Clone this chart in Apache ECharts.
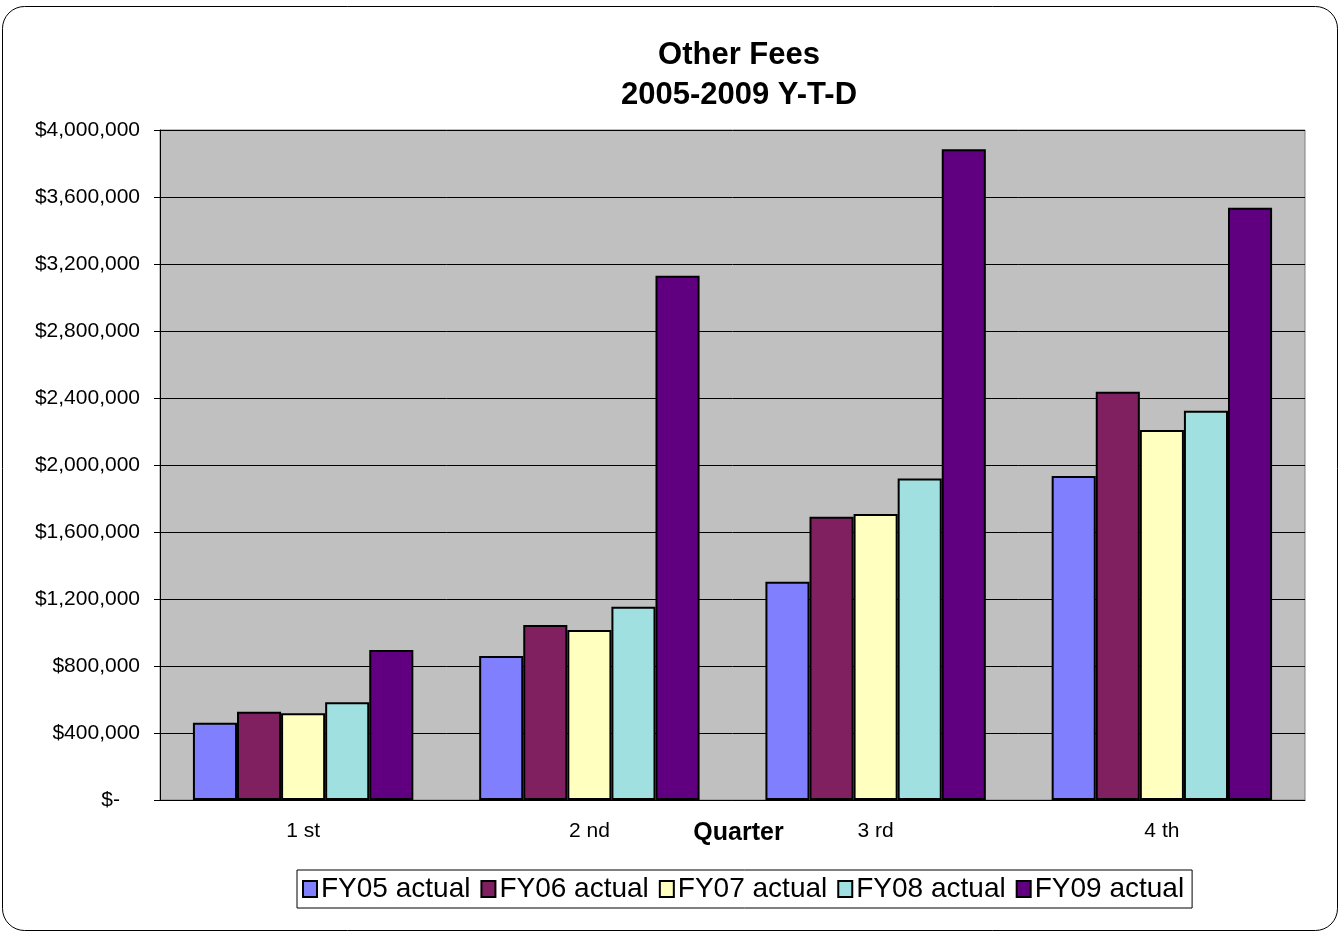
<!DOCTYPE html>
<html>
<head>
<meta charset="utf-8">
<script src="https://cdn.jsdelivr.net/npm/echarts@6/dist/echarts.min.js"></script>
<style>
  html, body { margin: 0; padding: 0; background: #fff; }
  #chart { width: 1340px; height: 933px; }
</style>
</head>
<body>
<div id="chart"></div>
<script>
// quarters along the x axis
const quarters = ["1 st", "2 nd", "3 rd", "4 th"]

// year-to-date fees per fiscal year
const fy05 = [461000, 860000, 1303000, 1934000]
const fy06 = [527000, 1045000, 1691000, 2438000]
const fy07 = [518000, 1015000, 1707000, 2209000]
const fy08 = [583000, 1154000, 1920000, 2324000]
const fy09 = [896000, 3130000, 3885000, 3536000]

const seriesNames = ["FY05 actual", "FY06 actual", "FY07 actual", "FY08 actual", "FY09 actual"]
const seriesColors = ["#8080FF", "#802060", "#FFFFC0", "#A0E0E0", "#600080"]
const seriesValues = [fy05, fy06, fy07, fy08, fy09]

const font = "Liberation Sans, Arial, sans-serif"

function money(value) {
    if (value === 0) {
        return "{z|$-}"
    }
    return "$" + value.toLocaleString("en-US")
}

const chart = echarts.init(document.getElementById("chart"))

chart.setOption({
    animation: false,
    backgroundColor: "#fff",
    textStyle: { fontFamily: font },
    title: {
        text: "Other Fees\n2005-2009 Y-T-D",
        left: 734,
        textAlign: "center",
        top: 30,
        textStyle: {
            fontFamily: font,
            fontSize: 31,
            fontWeight: "bold",
            color: "#000",
            lineHeight: 40,
        },
    },
    graphic: [
        {
            type: "rect",
            shape: { x: 2.5, y: 6.5, width: 1335, height: 924, r: 22 },
            style: { fill: "none", stroke: "#000", lineWidth: 1 },
            silent: true,
            z: -1,
        },
    ],
    grid: {
        left: 160,
        right: 35,
        top: 130,
        bottom: 133,
        show: true,
        backgroundColor: "#C0C0C0",
        borderColor: "#808080",
        borderWidth: 1,
    },
    legend: {
        data: seriesNames,
        icon: "rect",
        left: 297,
        top: 870,
        itemWidth: 14,
        itemHeight: 16,
        itemGap: 10,
        padding: [5, 8, 5, 5],
        borderColor: "#000",
        borderWidth: 1,
        textStyle: { fontFamily: font, fontSize: 28, color: "#000", padding: [0, 0, 0, -1] },
    },
    xAxis: {
        type: "category",
        data: quarters,
        name: "Quarter",
        nameLocation: "middle",
        nameGap: 21,
        nameMoveOverlap: false,
        nameTextStyle: { fontFamily: font, fontSize: 25, fontWeight: "bold", color: "#000", padding: [0, 0, 0, 12] },
        axisLine: { lineStyle: { color: "#000", width: 1 } },
        axisTick: { length: 6, lineStyle: { color: "#000" } },
        axisLabel: { margin: 21, fontSize: 21, color: "#000", fontFamily: font },
        splitLine: { show: false },
    },
    yAxis: {
        type: "value",
        min: 0,
        max: 4000000,
        interval: 400000,
        axisLine: { show: true, lineStyle: { color: "#000", width: 1 } },
        axisTick: { show: true, length: 6, lineStyle: { color: "#000" } },
        axisLabel: {
            margin: 20,
            fontSize: 21,
            color: "#000",
            fontFamily: font,
            formatter: money,
            rich: { z: { fontSize: 21, color: "#000", fontFamily: font, padding: [0, 20, 0, 0] } },
        },
        splitLine: { show: true, lineStyle: { color: "#000", width: 1 } },
    },
    series: seriesNames.map((name, i) => ({
        name: name,
        type: "bar",
        data: seriesValues[i],
        barGap: "0%",
        barCategoryGap: "23%",
        itemStyle: {
            color: seriesColors[i],
            borderColor: "#000",
            borderWidth: 2,
        },
    })),
})
</script>
</body>
</html>
